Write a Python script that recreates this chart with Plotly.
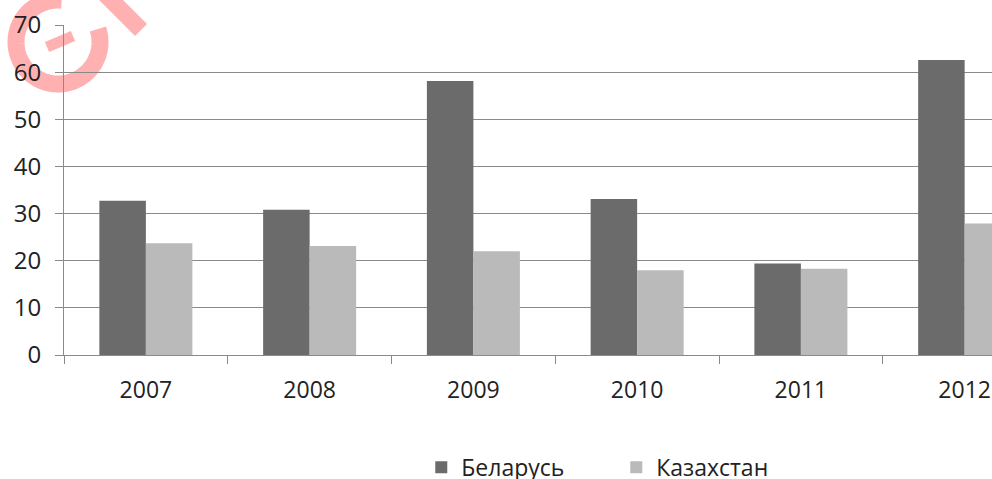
import math
import plotly.graph_objects as go

years = ["2007", "2008", "2009", "2010", "2011", "2012"]
belarus = [32.7, 30.8, 58.1, 33.1, 19.4, 62.6]
kazakhstan = [23.7, 23.1, 22.0, 18.0, 18.3, 27.9]
y_ticks = [0, 10, 20, 30, 40, 50, 60, 70]

font_family = "Open Sans"
grid_color = "#8a8a8a"
text_color = "#222222"

fig = go.Figure()
fig.add_trace(go.Bar(name="Беларусь", x=years, y=belarus,
                     marker=dict(color="#6b6b6b", line=dict(width=0))))
fig.add_trace(go.Bar(name="Казахстан", x=years, y=kazakhstan,
                     marker=dict(color="#bababa", line=dict(width=0))))

fig.update_layout(
    width=992, height=479,
    margin=dict(l=64, r=0, t=25, b=124, autoexpand=False),
    paper_bgcolor="white", plot_bgcolor="rgba(0,0,0,0)",
    barmode="group", bargap=0.432, bargroupgap=0,
    font=dict(family=font_family, size=23, color=text_color),
    showlegend=True,
    legend=dict(orientation="h", x=0.385, xanchor="left", y=-0.34, yanchor="middle",
                font=dict(size=23, color=text_color), traceorder="normal",
                entrywidth=150, itemwidth=30, bgcolor="rgba(0,0,0,0)"),
    xaxis=dict(type="category", range=[-0.5, 5.167], showline=True, linecolor=grid_color,
               linewidth=1, ticks="outside", tickson="boundaries", ticklen=8,
               tickcolor=grid_color, showgrid=False, tickfont=dict(size=23),
               ticklabelstandoff=14, automargin=False),
    yaxis=dict(range=[0, 70], tickvals=y_ticks, showline=True, linecolor=grid_color,
               linewidth=1, ticks="outside", ticklen=8, tickcolor=grid_color,
               showgrid=True, gridcolor=grid_color, gridwidth=1,
               ticklabelstandoff=9, zeroline=False, tickfont=dict(size=24),
               automargin=False),
)

# decorative watermark (pixel geometry relative to top-left of plot area)
AX, AY = 64, 25


def to_shape(px, py):
    return px - AX, AY - py


def poly(points):
    pts = [to_shape(px, py) for px, py in points]
    return "M " + " L ".join(f"{x:.2f},{y:.2f}" for x, y in pts)


cx, cy, r = 58, 42, 42
arc = []
for i in range(0, 121):
    ang = math.radians(85 + (378 - 85) * i / 120)
    arc.append((cx + r * math.cos(ang), cy - r * math.sin(ang)))

common = dict(type="path", xref="paper", yref="paper", xsizemode="pixel", ysizemode="pixel",
              xanchor=0, yanchor=1, layer="below", opacity=0.3)
fig.add_shape(path=poly(arc), line=dict(color="red", width=17), **common)
fig.add_shape(path=poly([(47, 47), (73, 36)]), line=dict(color="red", width=11), **common)
fig.add_shape(path=poly([(98, -13), (141, 30)]), line=dict(color="red", width=17), **common)

fig.write_html("out.html", config={"displayModeBar": False},
               post_script="document.body.style.margin='0';")
